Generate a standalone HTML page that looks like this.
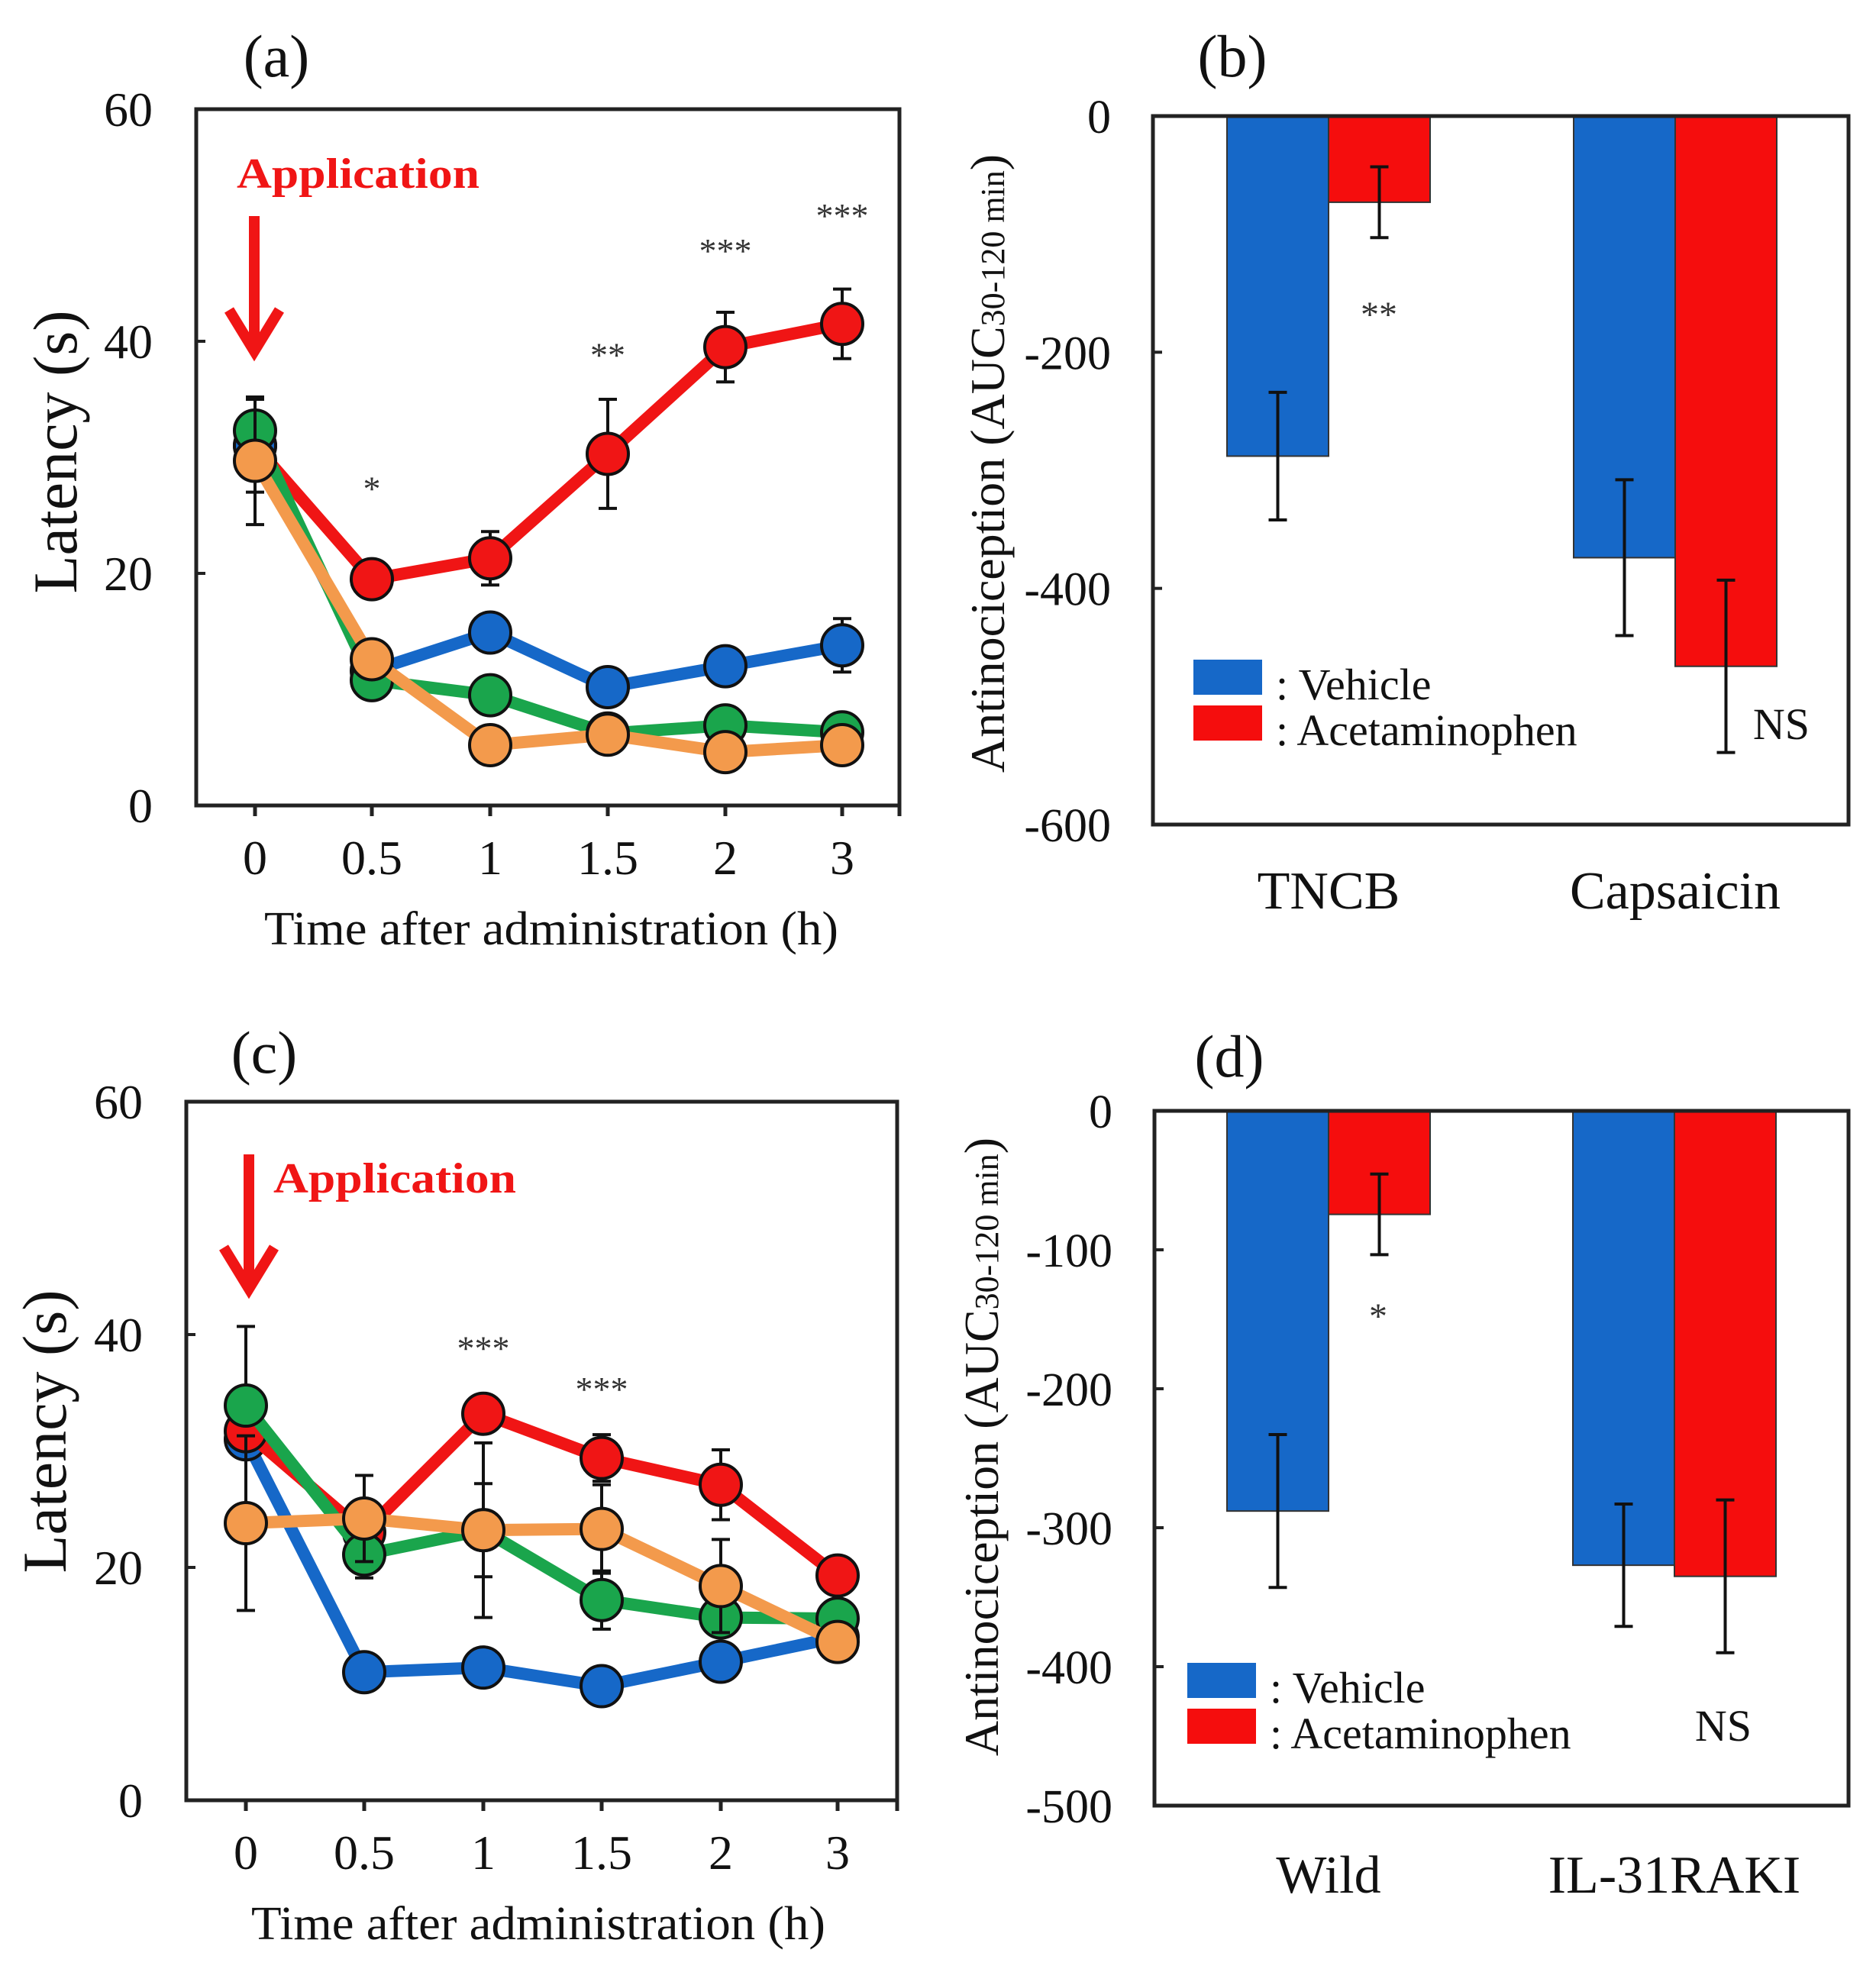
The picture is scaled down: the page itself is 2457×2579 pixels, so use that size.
<!DOCTYPE html>
<html><head><meta charset="utf-8">
<style>
html,body{margin:0;padding:0;background:#fff;}
svg{display:block;font-family:"Liberation Serif",serif;}
</style></head>
<body>
<svg id="fig" width="2457" height="2579" viewBox="0 0 2457 2579" xmlns="http://www.w3.org/2000/svg">
<rect x="0" y="0" width="2457" height="2579" fill="#fff"/>
</svg>
<script>
// ---------- data: panel (a) ----------
const timeLabels = ["0","0.5","1","1.5","2","3"];
const aRed    = [31, 19.5, 21.3, 30.3, 39.5, 41.5];
const aRedErr = [4, 1, 2.3, 4.7, 3, 3];
const aBlue   = [31, 11.6, 14.9, 10.2, 12, 13.8];
const aBlueErr= [0, 1.5, 0, 1.5, 0, 2.3];
const aGreen  = [32.3, 10.8, 9.5, 6.2, 6.9, 6.3];
const aGreenErr=[0, 0, 0, 0, 0, 0];
const aOrange = [29.7, 12.6, 5.2, 6.1, 4.6, 5.2];
const aOrangeErr=[5.5, 1.5, 0, 0, 0, 0];
const aSig = ["", "*", "", "**", "***", "***"];
const aSigVal = [0, 28, 0, 39.5, 48.5, 51.5];
// ---------- data: panel (c) ----------
const cRed    = [31.7, 23, 33.2, 29.4, 27.1, 19.3];
const cRedErr = [9, 0, 0, 2, 3, 0];
const cBlue   = [31, 11, 11.4, 9.8, 11.9, 14];
const cBlueErr= [0, 0, 0, 0, 0, 0];
const cGreen  = [33.9, 21.1, 23.2, 17.2, 15.7, 15.6];
const cGreenErr=[0, 2, 4, 2.5, 0, 0];
const cOrange = [23.8, 24.2, 23.2, 23.3, 18.4, 13.6];
const cOrangeErr=[7.5, 3.7, 7.5, 3.8, 4, 0];
const cSig = ["", "", "***", "***", "", ""];
const cSigVal = [0, 0, 39.5, 36, 0, 0];
const latencyTicks = [0, 20, 40, 60];
// ---------- data: panel (b) ----------
const bCats = ["TNCB", "Capsaicin"];
const bVehicle = [-288, -374];
const bVehicleErr = [54, 66];
const bAcet = [-73, -466];
const bAcetErr = [30, 73];
const bTicks = [0, -200, -400, -600];
// ---------- data: panel (d) ----------
const dCats = ["Wild", "IL-31RAKI"];
const dVehicle = [-288, -327];
const dVehicleErr = [55, 44];
const dAcet = [-74.5, -335];
const dAcetErr = [29, 55];
const dTicks = [0, -100, -200, -300, -400, -500];

const NS = "http://www.w3.org/2000/svg";
const svg = document.getElementById("fig");
function mk(tag, attrs, parent, text) {
  const e = document.createElementNS(NS, tag);
  for (const k in attrs) e.setAttribute(k, attrs[k]);
  if (text !== undefined) e.textContent = text;
  (parent || svg).appendChild(e);
  return e;
}
const COL = {red:"#f01515", blue:"#1668c8", green:"#1aa54c", orange:"#f39a4c"};

function linePanel(g, letter, series, sigs, sigVals) {
  const sx = i => g.xt[i];
  const sy = v => g.bottom - (v / 60) * (g.bottom - g.top);
  const grp = mk("g", {});
  
  
  const frame = mk("rect", {x:g.left, y:g.top, width:g.right-g.left, height:g.bottom-g.top, fill:"none", stroke:"#222", "stroke-width":5}, grp);
  
  
  latencyTicks.forEach(t => {
    mk("line", {x1:g.left, x2:g.left+12, y1:sy(t), y2:sy(t), stroke:"#222","stroke-width":4}, grp);
    const tl = mk("text", {x:g.left-57, y:sy(t)+22, "text-anchor":"end", "font-size":64, fill:"#111"}, grp, String(t));
    
    
  });
  timeLabels.forEach((lab, i) => {
    mk("line", {x1:sx(i), x2:sx(i), y1:g.bottom, y2:g.bottom+14, stroke:"#222","stroke-width":5}, grp);
    const tl = mk("text", {x:sx(i), y:g.bottom+90, "text-anchor":"middle", "font-size":64, fill:"#111"}, grp, lab);
    
    
  });
  mk("line", {x1:g.right, x2:g.right, y1:g.bottom, y2:g.bottom+14, stroke:"#222","stroke-width":5}, grp);
  const xt = mk("text", {x:g.xtitleX, y:g.bottom+182, "text-anchor":"middle", "font-size":62, fill:"#111", textLength:752, lengthAdjust:"spacingAndGlyphs"}, grp, "Time after administration (h)");
  
  
  const yt = mk("text", {x:0, y:0, transform:`translate(${g.ytitleX},${g.ytitleY}) rotate(-90)`, "text-anchor":"middle", "font-size":82, fill:"#111"}, grp, "Latency (s)");
  
  
  const pl = mk("text", {x:g.letterX, y:g.letterY, "text-anchor":"middle", "font-size":78, fill:"#111"}, grp, "(" + letter + ")");
  
  
  const ap = mk("text", {x:g.appX, y:g.appY, "font-size":56, "font-weight":"bold", fill:COL.red, textLength:318, lengthAdjust:"spacingAndGlyphs"}, grp, "Application");
  
  
  const ar = mk("g", {}, grp);
  
  
  mk("line", {x1:g.arX, x2:g.arX, y1:g.arY1, y2:g.arY2-20, stroke:COL.red, "stroke-width":14}, ar);
  mk("polyline", {points:`${g.arX-33},${g.arY2-64} ${g.arX},${g.arY2-10} ${g.arX+33},${g.arY2-64}`, fill:"none", stroke:COL.red, "stroke-width":14}, ar);
  series.forEach(s => {
    const sg = mk("g", {}, grp);
    
    
    mk("polyline", {points:s.vals.map((v,i)=>`${sx(i)},${sy(v)}`).join(" "), fill:"none", stroke:COL[s.col], "stroke-width":16, "stroke-linejoin":"round"}, sg);
    s.vals.forEach((v,i) => {
      const e = s.err[i];
      if (e > 0) {
        mk("line", {x1:sx(i), x2:sx(i), y1:sy(v+e), y2:sy(v-e), stroke:"#111","stroke-width":4}, sg);
        mk("line", {x1:sx(i)-12, x2:sx(i)+12, y1:sy(v+e), y2:sy(v+e), stroke:"#111","stroke-width":4}, sg);
        mk("line", {x1:sx(i)-12, x2:sx(i)+12, y1:sy(v-e), y2:sy(v-e), stroke:"#111","stroke-width":4}, sg);
      }
    });
    s.vals.forEach((v,i) => {
      const c = mk("circle", {cx:sx(i), cy:sy(v), r:27, fill:COL[s.col], stroke:"#111", "stroke-width":4}, sg);
      
      
    });
  });
  sigs.forEach((t,i) => {
    if (!t) return;
    const st = mk("text", {x:sx(i), y:sy(sigVals[i])+26, "text-anchor":"middle", "font-size":46, fill:"#333"}, grp, t);
    
    
  });
}

linePanel({left:257, right:1178, top:143, bottom:1055, xt:[334,487,642,796,950,1103],
  xtitleX:722, ytitleX:100, ytitleY:592, letterX:362, letterY:100,
  appX:310, appY:246, arX:333, arY1:283, arY2:470}, "a",
  [{name:"red-series", col:"red", vals:aRed, err:aRedErr},
   {name:"blue-series", col:"blue", vals:aBlue, err:aBlueErr},
   {name:"green-series", col:"green", vals:aGreen, err:aGreenErr},
   {name:"orange-series", col:"orange", vals:aOrange, err:aOrangeErr}], aSig, aSigVal);

linePanel({left:244, right:1175, top:1443, bottom:2358, xt:[322,477,633,788,944,1097],
  xtitleX:705, ytitleX:86, ytitleY:1875, letterX:346, letterY:1405,
  appX:358, appY:1562, arX:326, arY1:1512, arY2:1698}, "c",
  [{name:"blue-series", col:"blue", vals:cBlue, err:cBlueErr},
   {name:"red-series", col:"red", vals:cRed, err:cRedErr},
   {name:"green-series", col:"green", vals:cGreen, err:cGreenErr},
   {name:"orange-series", col:"orange", vals:cOrange, err:cOrangeErr}], cSig, cSigVal);

function barPanel(g, letter, cats, veh, vehErr, acet, acetErr, ticks, minV, sig, ns) {
  const sy = v => g.top + (v / minV) * (g.bottom - g.top);
  const grp = mk("g", {});
  
  
  ticks.forEach(t => {
    mk("line", {x1:g.left, x2:g.left+12, y1:sy(t), y2:sy(t), stroke:"#222","stroke-width":4}, grp);
    const tl = mk("text", {x:g.left-55, y:sy(t)+22, "text-anchor":"end", "font-size":62, fill:"#111"}, grp, String(t));
    
    
  });
  const bw = 133;
  cats.forEach((c,i) => {
    const cx = g.cx[i];
    [[veh, vehErr, cx-bw, "#1668c8", "vehicle-bar"], [acet, acetErr, cx, "#f50d0d", "acetaminophen-bar"]].forEach(([vals, errs, x, col, nm]) => {
      const v = vals[i];
      const b = mk("rect", {x:x, y:g.top, width:bw, height:sy(v)-g.top, fill:col, stroke:"#333", "stroke-width":2}, grp);
      
      
      const e = errs[i], mx = x + bw/2;
      mk("line", {x1:mx, x2:mx, y1:sy(v-e), y2:sy(v+e), stroke:"#111","stroke-width":4}, grp);
      mk("line", {x1:mx-12, x2:mx+12, y1:sy(v-e), y2:sy(v-e), stroke:"#111","stroke-width":4}, grp);
      mk("line", {x1:mx-12, x2:mx+12, y1:sy(v+e), y2:sy(v+e), stroke:"#111","stroke-width":4}, grp);
    });
    const cl = mk("text", {x:cx, y:g.catY, "text-anchor":"middle", "font-size":70, fill:"#111"}, grp, c);
    
    
  });
  const frame = mk("rect", {x:g.left, y:g.top, width:g.right-g.left, height:g.bottom-g.top, fill:"none", stroke:"#222", "stroke-width":5}, grp);
  
  
  const yt = mk("text", {x:0, y:0, transform:`translate(${g.ytitleX},${g.ytitleY}) rotate(-90)`, "text-anchor":"middle", "font-size":64, fill:"#111"}, grp);
  
  
  mk("tspan", {}, yt, "Antinociception (AUC");
  mk("tspan", {"font-size":44}, yt, "30-120 min");
  mk("tspan", {}, yt, ")");
  const pl = mk("text", {x:g.letterX, y:g.letterY, "text-anchor":"middle", "font-size":78, fill:"#111"}, grp, "(" + letter + ")");
  
  
  const st = mk("text", {x:g.sigX, y:g.sigY, "text-anchor":"middle", "font-size":48, fill:"#333"}, grp, sig);
  
  
  const nt = mk("text", {x:g.nsX, y:g.nsY, "text-anchor":"middle", "font-size":58, fill:"#111"}, grp, "NS");
  
  
  const lg = mk("g", {}, grp);
  
  
  const l1 = mk("rect", {x:g.lgX, y:g.lgY, width:90, height:46, fill:"#1668c8"}, lg);
  
  
  const l2 = mk("rect", {x:g.lgX, y:g.lgY+60, width:90, height:46, fill:"#f50d0d"}, lg);
  
  
  const t1 = mk("text", {x:g.lgX+108, y:g.lgY+52, "font-size":58, fill:"#111"}, lg, ": Vehicle");
  
  
  const t2 = mk("text", {x:g.lgX+108, y:g.lgY+112, "font-size":58, fill:"#111"}, lg, ": Acetaminophen");
  
  
}

barPanel({left:1510, right:2421, top:152, bottom:1080, cx:[1740,2194], catY:1190,
  ytitleX:1315, ytitleY:607, letterX:1614, letterY:100, sigX:1806, sigY:428,
  nsX:2333, nsY:968, lgX:1563, lgY:864}, "b", bCats, bVehicle, bVehicleErr, bAcet, bAcetErr, bTicks, -600, "**");

barPanel({left:1512, right:2421, top:1455, bottom:2365, cx:[1740,2193], catY:2479,
  ytitleX:1307, ytitleY:1895, letterX:1610, letterY:1410, sigX:1805, sigY:1740,
  nsX:2257, nsY:2280, lgX:1555, lgY:2178}, "d", dCats, dVehicle, dVehicleErr, dAcet, dAcetErr, dTicks, -500, "*");
</script>
</body></html>
